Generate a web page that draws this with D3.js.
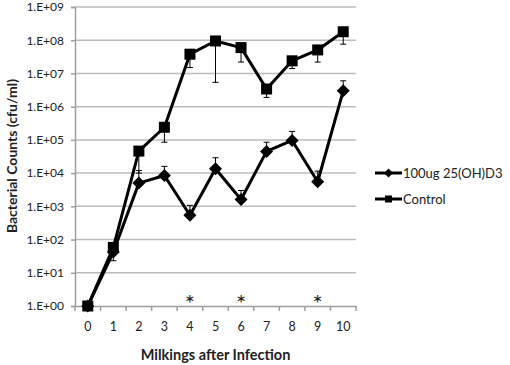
<!DOCTYPE html>
<html>
<head>
	<meta charset="utf-8">
	<title>Bacterial counts</title>
	<style>
		body { margin: 0; background: #fff; }
		text { font-family: Lato, "Open Sans", sans-serif; fill: #222; }
	</style>
</head>
<body>
	<svg width="510" height="365"></svg>
<script src="https://cdn.jsdelivr.net/npm/d3@7"></script>
<script>
	// data
	const milkings = ["0", "1", "2", "3", "4", "5", "6", "7", "8", "9", "10"]
	const treated = [1, 42, 5000, 8500, 540, 13500, 1600, 45000, 96000, 5500, 3000000]
	const treatedUpper = [null, null, 12000, 16000, 1070, 29000, 3000, 85000, 180000, 11500, 6000000]
	const control = [1, 58, 46000, 240000, 38000000, 95000000, 60000000, 3400000, 24000000, 51000000, 180000000]
	const controlLower = [null, 23, 10000, 85000, 15000000, 5400000, 22000000, 1900000, 14000000, 22000000, 76000000]
	const yTicks = [1e0, 1e1, 1e2, 1e3, 1e4, 1e5, 1e6, 1e7, 1e8, 1e9]
	const significant = ["4", "6", "9"]
	const seriesNames = ["100ug 25(OH)D3", "Control"]

	const svg = d3.select("svg")
	const x = d3.scaleBand().domain(milkings).range([75, 356])
	const y = d3.scaleLog().domain([1, 1e9]).range([306, 7])
	const cx = d => x(d) + x.bandwidth() / 2

	// gridlines
	svg.append("g").selectAll("line").data(yTicks.slice(1)).enter().append("line")
		.attr("x1", 75).attr("x2", 356)
		.attr("y1", d => y(d)).attr("y2", d => y(d))
		.attr("stroke", "#bcbcbc").attr("stroke-width", 1.5)

	// y axis
	const yAxis = svg.append("g").attr("transform", "translate(75,0)")
		.call(d3.axisLeft(y).tickValues(yTicks).tickSize(4).tickPadding(7)
			.tickFormat(d => "1.E+" + String(Math.round(Math.log10(d))).padStart(2, "0")))
	yAxis.selectAll("text").attr("font-size", 12)
	yAxis.select(".domain").attr("stroke", "#9e9e9e").attr("stroke-width", 1.5)
	yAxis.selectAll(".tick line").attr("stroke", "#9e9e9e").attr("stroke-width", 1.5)

	// x axis
	const xAxis = svg.append("g").attr("transform", "translate(0,306)")
		.call(d3.axisBottom(x).tickSize(0).tickPadding(16))
	xAxis.selectAll("text").attr("font-size", 12.5)
	xAxis.select(".domain").attr("stroke", "#9e9e9e").attr("stroke-width", 1.5)
	const edges = milkings.map(d => x(d)).concat([x.range()[1]])
	xAxis.selectAll(".edge").data(edges).enter().append("line")
		.attr("x1", d => d).attr("x2", d => d).attr("y1", 0).attr("y2", 5)
		.attr("stroke", "#9e9e9e").attr("stroke-width", 1.5)

	// axis titles
	svg.append("text").attr("x", 215.5).attr("y", 360)
		.attr("text-anchor", "middle").attr("font-size", 14.5).attr("font-weight", "bold")
		.text("Milkings after Infection")
	svg.append("text").attr("transform", "translate(17,156) rotate(-90)")
		.attr("text-anchor", "middle").attr("font-size", 14).attr("font-weight", "bold")
		.text("Bacterial Counts (cfu/ml)")

	// error bars
	function errBars(vals, ends) {
		const pts = milkings.map((m, i) => ({ m: m, v: vals[i], e: ends[i] })).filter(p => p.e != null)
		const g = svg.append("g").attr("stroke", "#000").attr("stroke-width", 1)
		g.selectAll(".stem").data(pts).enter().append("line")
			.attr("x1", p => cx(p.m)).attr("x2", p => cx(p.m))
			.attr("y1", p => y(p.v)).attr("y2", p => y(p.e))
		g.selectAll(".cap").data(pts).enter().append("line")
			.attr("x1", p => cx(p.m) - 3).attr("x2", p => cx(p.m) + 3)
			.attr("y1", p => y(p.e)).attr("y2", p => y(p.e))
	}
	errBars(control, controlLower)
	errBars(treated, treatedUpper)

	// lines
	const line = d3.line().x((d, i) => cx(milkings[i])).y(d => y(d))
	svg.append("path").attr("d", line(control)).attr("fill", "none")
		.attr("stroke", "#000").attr("stroke-width", 3).attr("stroke-linejoin", "round")
	svg.append("path").attr("d", line(treated)).attr("fill", "none")
		.attr("stroke", "#000").attr("stroke-width", 3).attr("stroke-linejoin", "round")

	// markers
	const diamond = r => `M0,${-r}L${r},0L0,${r}L${-r},0Z`
	svg.append("g").selectAll("path").data(treated).enter().append("path")
		.attr("d", diamond(6.5)).attr("fill", "#000")
		.attr("transform", (d, i) => `translate(${cx(milkings[i])},${y(d)})`)
	svg.append("g").selectAll("rect").data(control).enter().append("rect")
		.attr("x", (d, i) => cx(milkings[i]) - 5.5).attr("y", d => y(d) - 5.5)
		.attr("width", 11).attr("height", 11).attr("fill", "#000")

	// significance marks
	svg.append("g").selectAll("text").data(significant).enter().append("text")
		.attr("x", d => cx(d)).attr("y", 312).attr("text-anchor", "middle")
		.attr("font-size", 24).text("*")

	// legend
	const leg = svg.append("g")
	seriesNames.forEach((name, i) => {
		const ly = 173 + i * 26
		leg.append("line").attr("x1", 375).attr("x2", 402).attr("y1", ly).attr("y2", ly)
			.attr("stroke", "#000").attr("stroke-width", 3)
		if (i === 0) {
			leg.append("path").attr("d", diamond(4.5)).attr("fill", "#000")
				.attr("transform", `translate(388.5,${ly})`)
		} else {
			leg.append("rect").attr("x", 385).attr("y", ly - 3.5)
				.attr("width", 7).attr("height", 7).attr("fill", "#000")
		}
		leg.append("text").attr("x", 403).attr("y", ly).attr("dy", "0.35em")
			.attr("font-size", 13).text(name)
	})
</script>
</body>
</html>
